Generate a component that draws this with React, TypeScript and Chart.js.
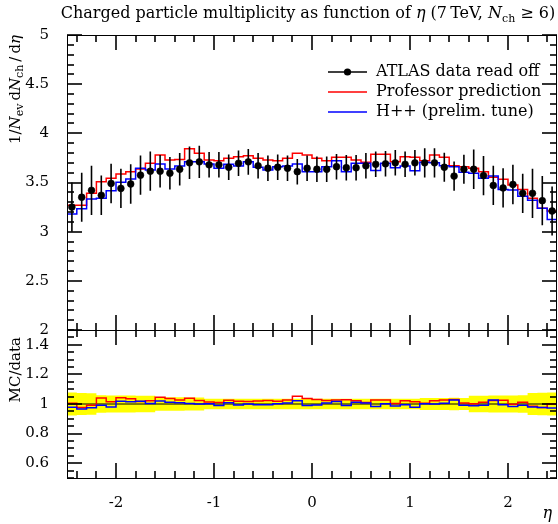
import React, { useEffect, useRef } from 'react';
import { Chart, registerables } from 'chart.js';

Chart.register(...registerables);

// ---------------- data ----------------
const etaCenters = [
  -2.45, -2.35, -2.25, -2.15, -2.05, -1.95, -1.85, -1.75, -1.65, -1.55,
  -1.45, -1.35, -1.25, -1.15, -1.05, -0.95, -0.85, -0.75, -0.65, -0.55,
  -0.45, -0.35, -0.25, -0.15, -0.05, 0.05, 0.15, 0.25, 0.35, 0.45,
  0.55, 0.65, 0.75, 0.85, 0.95, 1.05, 1.15, 1.25, 1.35, 1.45,
  1.55, 1.65, 1.75, 1.85, 1.95, 2.05, 2.15, 2.25, 2.35, 2.45,
];
const binHalfWidth = 0.05;

const atlasData = [
  3.25, 3.35, 3.42, 3.37, 3.49, 3.44, 3.485, 3.575, 3.615, 3.615,
  3.595, 3.635, 3.7, 3.71, 3.68, 3.68, 3.655, 3.695, 3.71, 3.67,
  3.645, 3.655, 3.645, 3.61, 3.645, 3.635, 3.635, 3.66, 3.65, 3.65,
  3.67, 3.685, 3.69, 3.7, 3.685, 3.7, 3.7, 3.7, 3.655, 3.565,
  3.635, 3.635, 3.57, 3.47, 3.445, 3.48, 3.39, 3.39, 3.315, 3.21,
];
const atlasErr = [
  0.25, 0.25, 0.25, 0.2, 0.2, 0.2, 0.2, 0.2, 0.2, 0.165,
  0.165, 0.165, 0.165, 0.165, 0.13, 0.13, 0.13, 0.13, 0.13, 0.13,
  0.13, 0.13, 0.13, 0.13, 0.13, 0.13, 0.13, 0.13, 0.13, 0.13,
  0.13, 0.13, 0.13, 0.13, 0.13, 0.13, 0.148, 0.148, 0.148, 0.148,
  0.148, 0.2, 0.2, 0.2, 0.2, 0.2, 0.2, 0.25, 0.25, 0.25,
];
const professorPred = [
  3.268, 3.268, 3.39, 3.508, 3.542, 3.586, 3.61, 3.637, 3.695, 3.78,
  3.729, 3.735, 3.844, 3.797, 3.729, 3.72, 3.746, 3.763, 3.773, 3.746,
  3.729, 3.72, 3.746, 3.797, 3.78, 3.746, 3.72, 3.756, 3.756, 3.729,
  3.705, 3.787, 3.787, 3.712, 3.763, 3.756, 3.72, 3.78, 3.756, 3.671,
  3.66, 3.644, 3.61, 3.553, 3.532, 3.475, 3.43, 3.339, 3.237, 3.21,
];
const herwigPred = [
  3.18, 3.234, 3.332, 3.339, 3.417, 3.502, 3.536, 3.644, 3.627, 3.688,
  3.637, 3.668, 3.71, 3.71, 3.688, 3.644, 3.685, 3.668, 3.71, 3.654,
  3.627, 3.66, 3.668, 3.688, 3.61, 3.61, 3.66, 3.72, 3.61, 3.695,
  3.695, 3.623, 3.695, 3.65, 3.668, 3.62, 3.705, 3.7, 3.671, 3.66,
  3.603, 3.593, 3.542, 3.566, 3.43, 3.424, 3.36, 3.32, 3.237, 3.125,
];

const mainYTicks = [2, 2.5, 3, 3.5, 4, 4.5, 5];
const ratioYTicks = [0.6, 0.8, 1, 1.2, 1.4];
const etaTicks = [-2, -1, 0, 1, 2];

const seriesLabels = ['ATLAS data read off', 'Professor prediction', 'H++ (prelim. tune)'];
const seriesColors = ['#000000', '#ff0000', '#0000ff'];

// ---------------- helpers ----------------
const FAMILY = '"DejaVu Serif", "Liberation Serif", serif';
const TICK_SIZE = 15;

type Seg = { t: string; it?: boolean; sub?: boolean };

function segFont(s: Seg, size: number) {
  return `${s.it ? 'italic ' : ''}${s.sub ? Math.round(size * 0.7) : size}px ${FAMILY}`;
}
function drawRich(ctx: CanvasRenderingContext2D, segs: Seg[], x: number, y: number, size: number, align: 'left' | 'center' | 'right') {
  let w = 0;
  for (const s of segs) {
    ctx.font = segFont(s, size);
    w += ctx.measureText(s.t).width;
  }
  let cx = align === 'left' ? x : align === 'center' ? x - w / 2 : x - w;
  ctx.textAlign = 'left';
  ctx.textBaseline = 'alphabetic';
  for (const s of segs) {
    ctx.font = segFont(s, size);
    ctx.fillText(s.t, cx, s.sub ? y + size * 0.22 : y);
    cx += ctx.measureText(s.t).width;
  }
}

function histPoints(vals: number[]) {
  const pts: { x: number; y: number }[] = [];
  etaCenters.forEach((c, i) => {
    pts.push({ x: c - binHalfWidth, y: vals[i] });
    pts.push({ x: c + binHalfWidth, y: vals[i] });
  });
  return pts;
}

function drawFrameTicks(chart: any, yStep: number, yMajorEvery: number, yFrom: number, yTo: number) {
  const ctx: CanvasRenderingContext2D = chart.ctx;
  const a = chart.chartArea;
  const xs = chart.scales.x;
  const ys = chart.scales.y;
  ctx.save();
  for (let k = -12; k <= 12; k++) {
    const v = k * 0.2;
    const len = Math.abs(k) % 5 === 0 ? 15 : 7;
    const px = Math.round(xs.getPixelForValue(v));
    ctx.strokeStyle = '#000000';
    ctx.lineWidth = 1.6;
    ctx.beginPath();
    ctx.moveTo(px, a.top);
    ctx.lineTo(px, a.top + len);
    ctx.stroke();
    ctx.beginPath();
    ctx.moveTo(px, a.bottom);
    ctx.lineTo(px, a.bottom - len);
    ctx.stroke();
  }
  for (let k = yFrom; k <= yTo; k++) {
    const v = k * yStep;
    const len = k % yMajorEvery === 0 ? 15 : 7;
    const py = Math.round(ys.getPixelForValue(v));
    ctx.strokeStyle = '#000000';
    ctx.lineWidth = 1.6;
    ctx.beginPath();
    ctx.moveTo(a.left, py);
    ctx.lineTo(a.left + len, py);
    ctx.stroke();
    ctx.beginPath();
    ctx.moveTo(a.right, py);
    ctx.lineTo(a.right - len, py);
    ctx.stroke();
  }
  ctx.strokeStyle = '#000000';
  ctx.lineWidth = 1;
  ctx.strokeRect(Math.round(a.left) + 0.5, Math.round(a.top) + 0.5, Math.round(a.right - a.left) - 1, Math.round(a.bottom - a.top));
  ctx.restore();
}

function makeFramePlugin(id: string, yStep: number, yMajorEvery: number, yFrom: number, yTo: number) {
  return {
    id,
    afterDraw(chart: any) {
      drawFrameTicks(chart, yStep, yMajorEvery, yFrom, yTo);
    },
  };
}

const errorBarPlugin = {
  id: 'errorBars',
  afterDatasetsDraw(chart: any) {
    const { ctx, scales } = chart;
    ctx.save();
    ctx.strokeStyle = '#000';
    ctx.lineWidth = 1.6;
    ctx.beginPath();
    etaCenters.forEach((c, i) => {
      const px = scales.x.getPixelForValue(c);
      ctx.moveTo(px, scales.y.getPixelForValue(atlasData[i] + atlasErr[i]));
      ctx.lineTo(px, scales.y.getPixelForValue(atlasData[i] - atlasErr[i]));
    });
    ctx.stroke();
    ctx.restore();
  },
};

const topTextPlugin = {
  id: 'topText',
  afterDraw(chart: any) {
    const { ctx, chartArea: a } = chart;
    ctx.save();
    ctx.fillStyle = '#000';
    drawRich(
      ctx,
      [
        { t: 'Charged particle multiplicity as function of ' },
        { t: 'η', it: true },
        { t: ' (7\u2009TeV, ' },
        { t: 'N', it: true },
        { t: 'ch', sub: true },
        { t: ' ≥ 6)' },
      ],
      308,
      18,
      16,
      'center'
    );
    ctx.save();
    ctx.translate(20, a.top);
    ctx.rotate(-Math.PI / 2);
    drawRich(
      ctx,
      [
        { t: '1/' },
        { t: 'N', it: true },
        { t: 'ev', sub: true },
        { t: '\u2009d' },
        { t: 'N', it: true },
        { t: 'ch', sub: true },
        { t: '\u2009/\u2009d' },
        { t: 'η', it: true },
      ],
      0,
      0,
      15,
      'right'
    );
    ctx.restore();
    const rowY = [72, 92, 112];
    const lx0 = a.right - 229;
    const lx1 = a.right - 190;
    const tx = a.right - 181;
    seriesLabels.forEach((lab, i) => {
      ctx.strokeStyle = seriesColors[i];
      ctx.lineWidth = i === 0 ? 1.6 : 1.5;
      ctx.beginPath();
      ctx.moveTo(lx0, rowY[i]);
      ctx.lineTo(lx1, rowY[i]);
      ctx.stroke();
      if (i === 0) {
        ctx.fillStyle = '#000';
        ctx.beginPath();
        ctx.arc((lx0 + lx1) / 2, rowY[i], 3.6, 0, Math.PI * 2);
        ctx.fill();
      }
      ctx.fillStyle = '#000';
      ctx.font = `16px ${FAMILY}`;
      ctx.textAlign = 'left';
      ctx.textBaseline = 'middle';
      ctx.fillText(lab, tx, rowY[i]);
    });
    ctx.restore();
  },
};

const bottomTextPlugin = {
  id: 'bottomText',
  afterDraw(chart: any) {
    const { ctx, chartArea: a } = chart;
    ctx.save();
    ctx.fillStyle = '#000';
    ctx.save();
    ctx.translate(20, a.top + 7);
    ctx.rotate(-Math.PI / 2);
    drawRich(ctx, [{ t: 'MC/data' }], 0, 0, 15, 'right');
    ctx.restore();
    drawRich(ctx, [{ t: 'η', it: true }], a.right - 5, a.bottom + 40, 16, 'right');
    ctx.restore();
  },
};

const tickFont = { family: FAMILY, size: TICK_SIZE };

function topConfig(): any {
  return {
    type: 'scatter',
    data: {
      datasets: [
        {
          label: seriesLabels[0],
          data: etaCenters.map((x, i) => ({ x, y: atlasData[i] })),
          showLine: false,
          pointRadius: 3.4,
          pointBorderWidth: 0.6,
          pointBackgroundColor: '#000',
          pointBorderColor: '#000',
          order: 0,
        },
        {
          label: seriesLabels[1],
          data: histPoints(professorPred),
          showLine: true,
          borderColor: seriesColors[1],
          borderWidth: 1.5,
          pointRadius: 0,
          order: 2,
        },
        {
          label: seriesLabels[2],
          data: histPoints(herwigPred),
          showLine: true,
          borderColor: seriesColors[2],
          borderWidth: 1.5,
          pointRadius: 0,
          order: 1,
        },
      ],
    },
    options: {
      responsive: false,
      animation: false,
      devicePixelRatio: 1,
      layout: { autoPadding: false, padding: { top: 35, left: 0, right: 1, bottom: 20 } },
      plugins: { legend: { display: false }, tooltip: { enabled: false }, title: { display: false } },
      scales: {
        x: { type: 'linear', min: -2.5, max: 2.5, display: false },
        y: {
          type: 'linear',
          min: 2,
          max: 5,
          afterBuildTicks: (s: any) => {
            s.ticks = mainYTicks.map((v) => ({ value: v }));
          },
          afterFit: (s: any) => {
            s.width = 67;
          },
          grid: { display: false },
          border: { display: false },
          ticks: { color: '#000', font: tickFont, padding: 10, callback: (v: any) => String(v) },
        },
      },
    },
    plugins: [errorBarPlugin, makeFramePlugin('frameTicksTop', 0.1, 5, 20, 50), topTextPlugin],
  };
}

function bottomConfig(): any {
  const relErr = atlasErr.map((e, i) => e / atlasData[i]);
  const bandUp = relErr.map((r) => 1 + r);
  const bandLo = relErr.map((r) => 1 - r);
  const ratioProf = professorPred.map((v, i) => v / atlasData[i]);
  const ratioHerwig = herwigPred.map((v, i) => v / atlasData[i]);
  return {
    type: 'scatter',
    data: {
      datasets: [
        {
          label: 'data uncertainty',
          data: histPoints(bandUp),
          showLine: true,
          fill: '+1',
          backgroundColor: '#ffff00',
          borderColor: 'rgba(0,0,0,0)',
          borderWidth: 0,
          pointRadius: 0,
          order: 5,
        },
        {
          label: 'data uncertainty low',
          data: histPoints(bandLo),
          showLine: true,
          fill: false,
          borderColor: 'rgba(0,0,0,0)',
          borderWidth: 0,
          pointRadius: 0,
          order: 6,
        },
        {
          label: 'unity',
          data: [
            { x: -2.5, y: 1 },
            { x: 2.5, y: 1 },
          ],
          showLine: true,
          borderColor: '#000',
          borderWidth: 1,
          pointRadius: 0,
          order: 3,
        },
        {
          label: seriesLabels[1],
          data: histPoints(ratioProf),
          showLine: true,
          borderColor: seriesColors[1],
          borderWidth: 1.5,
          pointRadius: 0,
          order: 2,
        },
        {
          label: seriesLabels[2],
          data: histPoints(ratioHerwig),
          showLine: true,
          borderColor: seriesColors[2],
          borderWidth: 1.5,
          pointRadius: 0,
          order: 1,
        },
      ],
    },
    options: {
      responsive: false,
      animation: false,
      devicePixelRatio: 1,
      layout: { autoPadding: false, padding: { top: 20, left: 0, right: 1, bottom: 0 } },
      plugins: { legend: { display: false }, tooltip: { enabled: false }, title: { display: false } },
      scales: {
        x: {
          type: 'linear',
          min: -2.5,
          max: 2.5,
          afterBuildTicks: (s: any) => {
            s.ticks = etaTicks.map((v) => ({ value: v }));
          },
          afterFit: (s: any) => {
            s.height = 46;
          },
          grid: { display: false },
          border: { display: false },
          ticks: { color: '#000', font: tickFont, padding: 8, maxRotation: 0, autoSkip: false, callback: (v: any) => String(v) },
        },
        y: {
          type: 'linear',
          min: 0.5,
          max: 1.5,
          afterBuildTicks: (s: any) => {
            s.ticks = ratioYTicks.map((v) => ({ value: v }));
          },
          afterFit: (s: any) => {
            s.width = 67;
          },
          grid: { display: false },
          border: { display: false },
          ticks: { color: '#000', font: tickFont, padding: 10, callback: (v: any) => String(v) },
        },
      },
    },
    plugins: [makeFramePlugin('frameTicksBottom', 0.05, 4, 10, 30), bottomTextPlugin],
  };
}

export default function App() {
  const topRef = useRef<HTMLCanvasElement>(null);
  const botRef = useRef<HTMLCanvasElement>(null);
  useEffect(() => {
    const c1 = new Chart(topRef.current as HTMLCanvasElement, topConfig());
    const c2 = new Chart(botRef.current as HTMLCanvasElement, bottomConfig());
    return () => {
      c1.destroy();
      c2.destroy();
    };
  }, []);
  return (
    <div style={{ position: 'absolute', left: 0, top: 0, width: 558, height: 524, background: '#fff' }}>
      <canvas ref={topRef} width={558} height={350} style={{ position: 'absolute', left: 0, top: 0 }} />
      <canvas ref={botRef} width={558} height={214} style={{ position: 'absolute', left: 0, top: 310 }} />
    </div>
  );
}
